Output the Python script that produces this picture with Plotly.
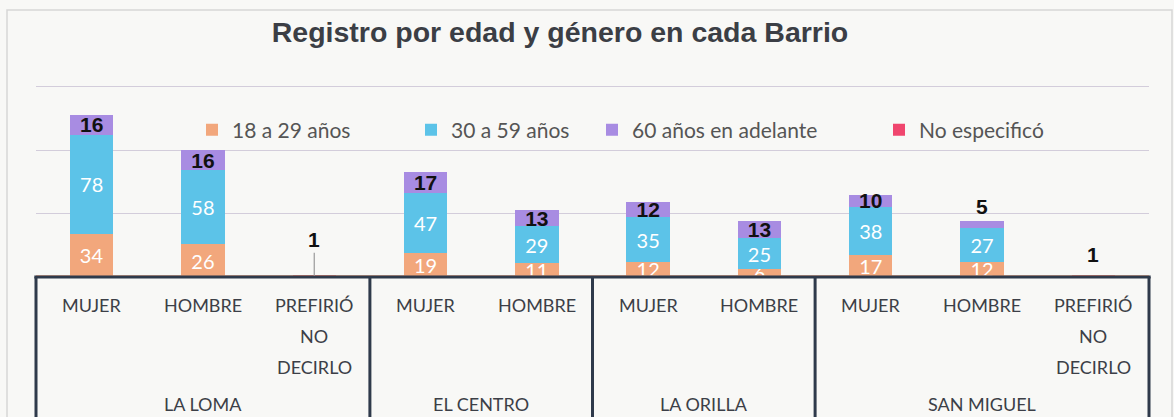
import plotly.graph_objects as go

# ---------------- data ----------------
barrios = ["LA LOMA", "EL CENTRO", "LA ORILLA", "SAN MIGUEL"]
generos = [
    ["MUJER", "HOMBRE", "PREFIRIÓ<br>NO<br>DECIRLO"],
    ["MUJER", "HOMBRE"],
    ["MUJER", "HOMBRE"],
    ["MUJER", "HOMBRE", "PREFIRIÓ<br>NO<br>DECIRLO"],
]
series_names = ["18 a 29 años", "30 a 59 años", "60 años en adelante", "No especificó"]
edad_18_29 = [34, 26, None, 19, 11, 12, 6, 17, 12, None]
edad_30_59 = [78, 58, None, 47, 29, 35, 25, 38, 27, None]
edad_60_mas = [16, 16, None, 17, 13, 12, 13, 10, 5, None]
no_especifico = [None, None, 1, None, None, None, None, None, None, 1]

title_text = "Registro por edad y género en cada Barrio"

# ---------------- layout helpers ----------------
W, H = 1174, 417
ML, MR, MT, MB = 36, 25, 74, 140
PW, PH = W - ML - MR, H - MT - MB
YMAX = 160


def px_x(px):
    return (px - ML) / PW


def px_y(py):
    return (H - MB - py) / PH


keys = []
sub_labels = []
for gi, (b, subs) in enumerate(zip(barrios, generos)):
    for s in subs:
        keys.append(f"{b}|{s}")
        sub_labels.append(s)
n = len(keys)

colors = ["#F2A77C", "#5CC3E8", "#A88CE2", "#F0466E"]
values = [edad_18_29, edad_30_59, edad_60_mas, no_especifico]
legend_ids = ["legend", "legend2", "legend3", "legend4"]
legend_marker_px = [211, 430, 611, 898]

black_font = dict(family="Liberation Sans", size=21, color="#111111", weight="bold")

fig = go.Figure()
for i, (name, vals, col) in enumerate(zip(series_names, values, colors)):
    kw = {}
    if i in (0, 1):
        kw = dict(texttemplate="%{y}", textposition="inside", insidetextanchor="middle",
                  textangle=0, constraintext="none",
                  insidetextfont=dict(family="Lato", size=20, color="white"))
    elif i == 2:
        # very thin segments get their label just above the bar
        tpos = ["outside" if (v is not None and v < 8) else "inside" for v in vals]
        kw = dict(texttemplate="%{y}", textposition=tpos, insidetextanchor="middle",
                  textangle=0, constraintext="none", cliponaxis=False,
                  insidetextfont=black_font, outsidetextfont=black_font)
    fig.add_trace(go.Bar(x=keys, y=vals, name=name, legend=legend_ids[i],
                         marker=dict(color=col, line=dict(width=0)), **kw))

# labels for "No especificó"
label_offsets = {2: (-36, True), 9: (-21, False)}
for idx, v in enumerate(no_especifico):
    if v:
        off, arrow = label_offsets.get(idx, (-20, False))
        if arrow:
            fig.add_annotation(x=idx, y=v, xref="x", yref="y", text=f"<b>{v}</b>",
                               showarrow=True, arrowhead=0, arrowwidth=1.2,
                               arrowcolor="#9a9a9a", ax=0, ay=off, standoff=0,
                               font=dict(family="Liberation Sans", size=21, color="#111111"))
        else:
            fig.add_annotation(x=idx, y=v, xref="x", yref="y", text=f"<b>{v}</b>",
                               showarrow=False, yshift=-off, yanchor="middle",
                               font=dict(family="Liberation Sans", size=21, color="#111111"))

# category table labels
line_gap = 31
for idx, lab in enumerate(sub_labels):
    for li, part in enumerate(lab.split("<br>")):
        fig.add_annotation(x=idx, xref="x", y=px_y(305 + li * line_gap), yref="paper",
                           text=part, showarrow=False, yanchor="middle",
                           font=dict(family="Lato", size=18, color="#3c3f47"))

start = 0
boundaries = [0.0]
for gi, b in enumerate(barrios):
    cnt = len(generos[gi])
    center = start + (cnt - 1) / 2
    fig.add_annotation(x=center, xref="x", y=px_y(404), yref="paper", text=b,
                       showarrow=False, yanchor="middle",
                       font=dict(family="Lato", size=18, color="#3c3f47"))
    start += cnt
    boundaries.append(start / n)

box_col = "#2f3a4b"
shapes = []
shapes.append(dict(type="rect", xref="paper", yref="paper", x0=px_x(7), x1=px_x(1172),
                   y0=px_y(440), y1=px_y(10), line=dict(color="#d6d6d6", width=1.5),
                   layer="below"))
shapes.append(dict(type="line", xref="paper", yref="paper", x0=0, x1=1, y0=px_y(276), y1=px_y(276),
                   line=dict(color="#F0A27A", width=1.5)))
shapes.append(dict(type="line", xref="paper", yref="paper", x0=-0.0015, x1=1.0015, y0=0, y1=0,
                   line=dict(color=box_col, width=3)))
for bx in boundaries:
    shapes.append(dict(type="line", xref="paper", yref="paper", x0=bx, x1=bx, y0=0, y1=px_y(440),
                       line=dict(color=box_col, width=3)))

legend_style = dict(orientation="h", xref="paper", yref="paper",
                    y=px_y(130), yanchor="middle", xanchor="left",
                    font=dict(family="Lato", size=21, color="#555555"),
                    bgcolor="rgba(0,0,0,0)", borderwidth=0)
legends = {}
for lid, mpx in zip(legend_ids, legend_marker_px):
    legends[lid] = dict(legend_style, x=px_x(mpx - 19))

fig.update_layout(
    width=W, height=H,
    margin=dict(l=ML, r=MR, t=MT, b=MB, autoexpand=False),
    paper_bgcolor="#f8f8f6", plot_bgcolor="#f8f8f6",
    barmode="stack", bargap=0.61,
    title=dict(text=f"<b>{title_text}</b>", x=560 / W, xanchor="center", xref="container",
               y=1 - 32 / H, yanchor="middle", yref="container",
               font=dict(family="Liberation Sans", size=28.5, color="#3b3e45")),
    xaxis=dict(type="category", range=[-0.5, n - 0.5], showticklabels=False, showgrid=False,
               zeroline=False, showline=False, ticks=""),
    yaxis=dict(range=[0, YMAX], dtick=50, showticklabels=False, showgrid=True,
               gridcolor="#d3cddb", gridwidth=1, zeroline=False, showline=False, ticks=""),
    shapes=shapes,
    showlegend=True,
    **legends,
)

fig.write_html("out.html", config={"displayModeBar": False},
               post_script="document.body.style.margin='0';document.body.style.overflow='hidden';")
